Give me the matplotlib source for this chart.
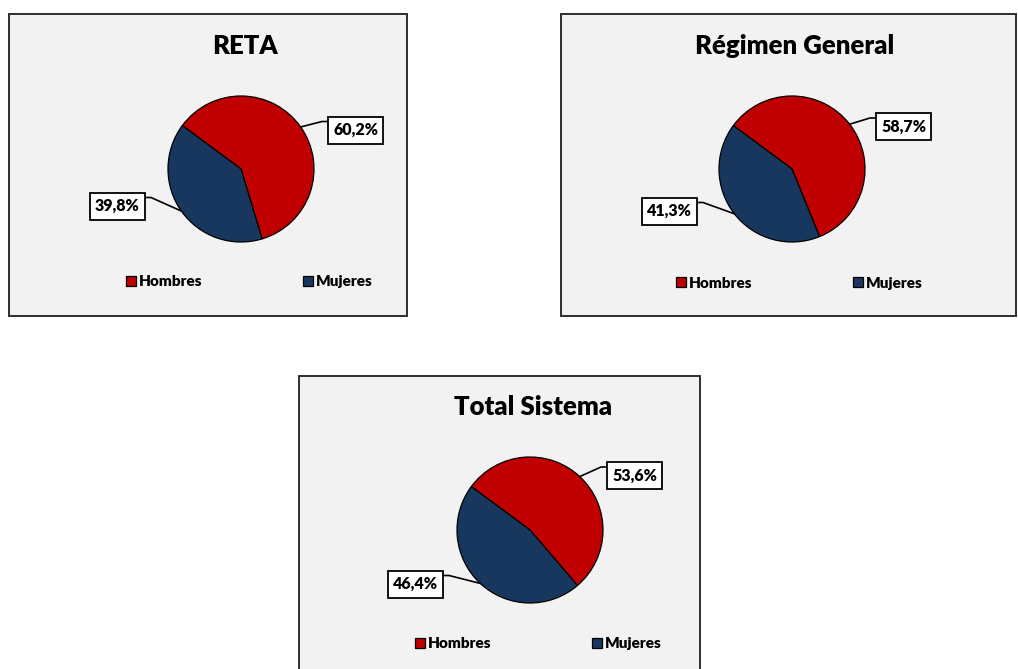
import matplotlib
matplotlib.use("Agg")
import matplotlib.pyplot as plt
from matplotlib.patches import Rectangle
import numpy as np

# ---- data ----
titles = ["RETA", "Régimen General", "Total Sistema"]
categories = ["Hombres", "Mujeres"]
hombres = [60.2, 58.7, 53.6]
mujeres = [39.8, 41.3, 46.4]
colors = ["#C00000", "#17375E"]

plt.rcParams['font.family'] = ['Lato', 'DejaVu Sans']

W, H = 1018, 669
fig = plt.figure(figsize=(W / 100, H / 100), dpi=100)
fig.patch.set_facecolor("white")


def fx(px):
    return px / W


def fy(py):
    return 1 - py / H


# layout (pixels)
panels = [
    dict(rect=(9, 14, 407, 316), center=(241, 169), title_xy=(245, 46), leg=(126, 303, 282),
         boxes=[(355.5, 130), (117.5, 206)]),
    dict(rect=(561, 14, 1016, 316), center=(792, 169), title_xy=(795, 46), leg=(676, 853, 283),
         boxes=[(903.5, 126.5), (669.5, 211)]),
    dict(rect=(299, 376, 700, 700), center=(530, 530), title_xy=(533, 407), leg=(415, 592, 644),
         boxes=[(634.5, 475.5), (415.5, 584)]),
]
R = 73
BW, BH = 55, 27

for i, p in enumerate(panels):
    x0, y0, x1, y1 = p["rect"]
    bg = Rectangle((fx(x0), fy(y1)), (x1 - x0) / W, (y1 - y0) / H, transform=fig.transFigure,
                   facecolor="#F2F2F2", edgecolor="#2e2e2e", linewidth=1.4, zorder=0)
    fig.add_artist(bg)

    cx, cy = p["center"]
    ax = fig.add_axes([fx(cx - R), fy(cy + R), 2 * R / W, 2 * R / H])
    ax.set_xlim(-1, 1)
    ax.set_ylim(-1, 1)
    ax.axis("off")
    vals = [hombres[i], mujeres[i]]
    wedges, _ = ax.pie(vals, colors=colors, startangle=143.5, counterclock=False, radius=1,
                       wedgeprops=dict(edgecolor="black", linewidth=0.9))
    ax.set_xlim(-1, 1)
    ax.set_ylim(-1, 1)

    for j, (w, v) in enumerate(zip(wedges, vals)):
        mid = np.deg2rad((w.theta1 + w.theta2) / 2)
        bx, by = p["boxes"][j]
        u = (bx - cx) / R
        vv = (cy - by) / R
        bw, bh = BW / R, BH / R
        ax.add_patch(Rectangle((u - bw / 2, vv - bh / 2), bw, bh, facecolor="white",
                               edgecolor="black", linewidth=1.3, clip_on=False, zorder=5))
        ax.text(u, vv, f"{v:.1f}%".replace(".", ","), ha="center", va="center",
                fontsize=11.5, fontweight="heavy", zorder=6, clip_on=False)
        p0 = (np.cos(mid), np.sin(mid))
        ay = vv + bh / 2 - 5 / R
        if u > 0:
            ax_ = u - bw / 2
            ex = ax_ - 6 / R
        else:
            ax_ = u + bw / 2
            ex = ax_ + 6 / R
        ax.plot([p0[0], ex, ax_], [p0[1], ay, ay], color="black", linewidth=1.2,
                clip_on=False, zorder=4)

    fig.text(fx(p["title_xy"][0]), fy(p["title_xy"][1]), titles[i], ha="center", va="center",
             fontsize=18.5, fontweight="heavy")

    lx1, lx2, ly = p["leg"]
    for k, lx in enumerate((lx1, lx2)):
        fig.legend([wedges[k]], [categories[k]], loc="center left",
                   bbox_to_anchor=(fx(lx), fy(ly)), frameon=False, borderpad=0,
                   borderaxespad=0, handlelength=0.65, handleheight=0.65,
                   handletextpad=0.2, prop=dict(size=11, weight="heavy"))

fig.savefig("out.png", dpi=100, facecolor="white")
